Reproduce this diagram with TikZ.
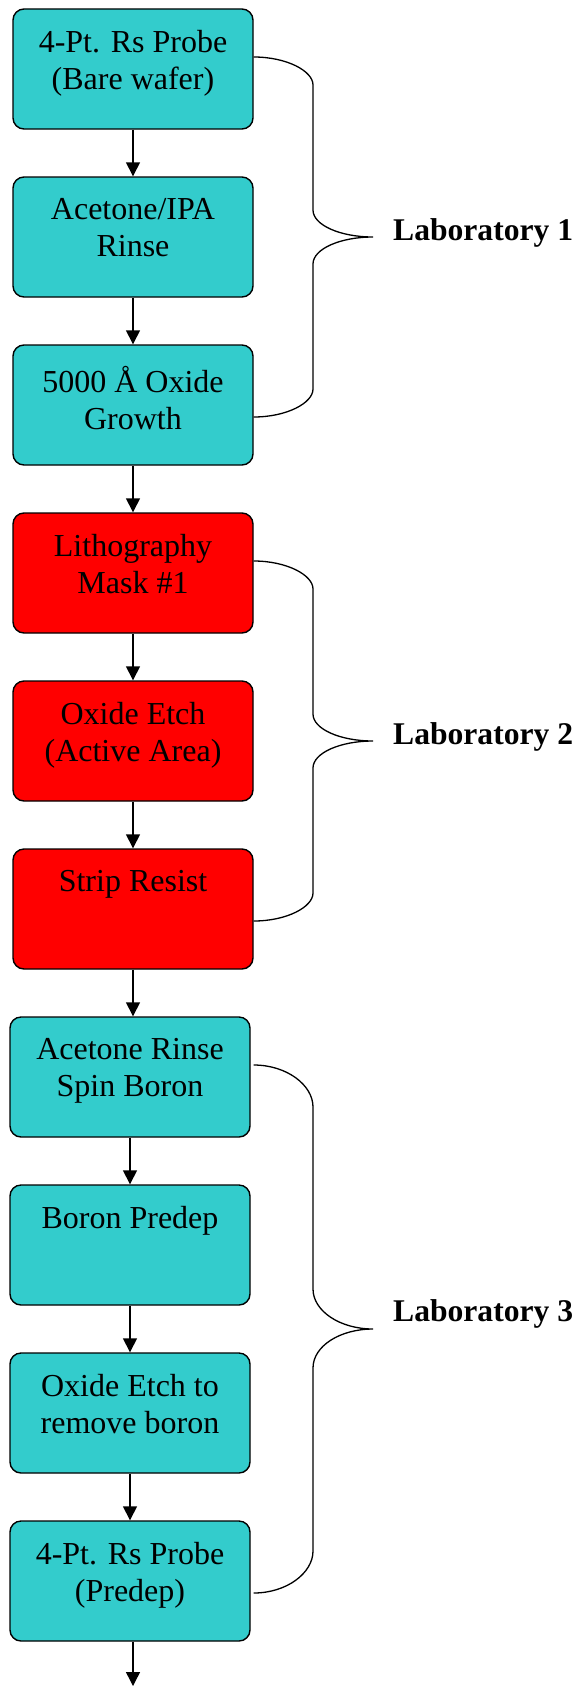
\documentclass[tikz,border=0pt]{standalone}
\usepackage{fontspec}
\setmainfont{Liberation Serif}
\usetikzlibrary{arrows.meta,calc}

\definecolor{stepcyan}{HTML}{33CCCC}
\definecolor{stepred}{HTML}{FF0000}

\tikzset{
  stepbox/.style={draw=black, line width=1.4pt, rounded corners=11pt,
    minimum width=240pt, minimum height=120pt, inner sep=0pt},
  cyanbox/.style={stepbox, fill=stepcyan},
  redbox/.style={stepbox, fill=stepred},
  steptext/.style={anchor=north, inner sep=0pt, align=center,
    font=\fontsize{32}{37}\selectfont},
  flow/.style={line width=1.4pt, -{Triangle[width=14pt,length=14pt]}},
  bracepath/.style={line width=1.3pt},
  labtext/.style={anchor=base west, inner sep=0pt,
    font=\fontsize{31.6}{36}\selectfont\bfseries}
}

\begin{document}
\begin{tikzpicture}[x=1pt, y=-1pt]
\useasboundingbox (0,0) rectangle (579,1686);

% process steps
\node[cyanbox] (b1)  at (133,69)   {};
\node[cyanbox] (b2)  at (133,237)  {};
\node[cyanbox] (b3)  at (133,405)  {};
\node[redbox]  (b4)  at (133,573)  {};
\node[redbox]  (b5)  at (133,741)  {};
\node[redbox]  (b6)  at (133,909)  {};
\node[cyanbox] (b7)  at (130,1077) {};
\node[cyanbox] (b8)  at (130,1245) {};
\node[cyanbox] (b9)  at (130,1413) {};
\node[cyanbox] (b10) at (130,1581) {};

% step captions, set from the top of each box
\node[steptext] (t1)  at ([yshift=-22pt]b1.north)  {4-Pt. Rs Probe\\(Bare wafer)};
\node[steptext] (t2)  at ([yshift=-22pt]b2.north)  {Acetone/IPA\\Rinse};
\node[steptext] (t3)  at ([yshift=-22pt]b3.north)  {5000 Å Oxide\\Growth};
\node[steptext] (t4)  at ([yshift=-22pt]b4.north)  {Lithography\\Mask \#1};
\node[steptext] (t5)  at ([yshift=-22pt]b5.north)  {Oxide Etch\\(Active Area)};
\node[steptext] (t6)  at ([yshift=-22pt]b6.north)  {Strip Resist};
\node[steptext] (t7)  at ([yshift=-22pt]b7.north)  {Acetone Rinse\\Spin Boron};
\node[steptext] (t8)  at ([yshift=-22pt]b8.north)  {Boron Predep};
\node[steptext] (t9)  at ([yshift=-22pt]b9.north)  {Oxide Etch to\\remove boron};
\node[steptext] (t10) at ([yshift=-22pt]b10.north) {4-Pt. Rs Probe\\(Predep)};

% flow arrows
\draw[flow] (b1) -- (b2);
\draw[flow] (b2) -- (b3);
\draw[flow] (b3) -- (b4);
\draw[flow] (b4) -- (b5);
\draw[flow] (b5) -- (b6);
\draw[flow] (b6.south) -- (b6.south |- b7.north);
\draw[flow] (b7) -- (b8);
\draw[flow] (b8) -- (b9);
\draw[flow] (b9) -- (b10);
\coordinate (next) at (133,1686);
\draw[flow] (next |- b10.south) -- (next);

% braces grouping the steps by laboratory
\coordinate (tip1) at (373,237);
\coordinate (tip2) at (373,741);
\coordinate (tip3) at (373,1329);

\draw[bracepath] ([yshift=12pt]b1.east)
  .. controls +(33,0) and +(0,-14) .. (313,85) -- (313,210)
  .. controls +(0,15) and +(-33,0) .. (tip1)
  .. controls +(-33,0) and +(0,-15) .. (313,264) -- (313,389)
  .. controls +(0,14) and +(33,0) .. ([yshift=-12pt]b3.east);

\draw[bracepath] ([yshift=12pt]b4.east)
  .. controls +(33,0) and +(0,-14) .. (313,589) -- (313,714)
  .. controls +(0,15) and +(-33,0) .. (tip2)
  .. controls +(-33,0) and +(0,-15) .. (313,768) -- (313,893)
  .. controls +(0,14) and +(33,0) .. ([yshift=-12pt]b6.east);

\draw[bracepath] ([xshift=3pt,yshift=12pt]b7.east)
  .. controls +(33,0) and +(0,-22) .. (313,1107) -- (313,1289)
  .. controls +(0,22) and +(-33,0) .. (tip3)
  .. controls +(-33,0) and +(0,-22) .. (313,1368) -- (313,1551)
  .. controls +(0,22) and +(33,0) .. ([xshift=3pt,yshift=-12pt]b10.east);

% laboratory labels
\node[labtext] (lab1) at ([xshift=20pt,yshift=-3pt]tip1) {Laboratory 1};
\node[labtext] (lab2) at ([xshift=20pt,yshift=-3pt]tip2) {Laboratory 2};
\node[labtext] (lab3) at ([xshift=20pt,yshift=8pt]tip3) {Laboratory 3};
\end{tikzpicture}
\end{document}
